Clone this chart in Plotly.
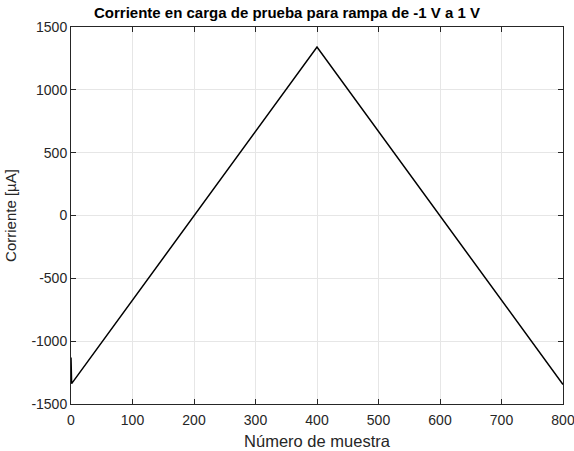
import plotly.graph_objects as go

muestra = [0, 1, 400, 800]
corriente = [-1130, -1338, 1340, -1345]

x_ticks = [0, 100, 200, 300, 400, 500, 600, 700, 800]
y_ticks = [-1500, -1000, -500, 0, 500, 1000, 1500]
y_labels = ["-1500", "-1000", "-500", "0", "500", "1000", "1500"]

FONT = "Liberation Sans, Arial"

fig = go.Figure()
fig.add_trace(go.Scatter(x=muestra, y=corriente, mode="lines",
                         line=dict(color="black", width=1.5), showlegend=False))

axis_common = dict(showline=True, linecolor="#262626", linewidth=1, mirror="ticks",
                   ticks="inside", ticklen=5, tickcolor="#262626", automargin=False,
                   ticklabeloverflow="allow",
                   showgrid=True, gridcolor="#e6e6e6", gridwidth=1, zeroline=False,
                   tickfont=dict(family=FONT, size=14, color="#262626"))

fig.update_layout(
    width=574, height=451,
    margin=dict(l=71, r=11, t=27, b=47),
    paper_bgcolor="white", plot_bgcolor="white",
    title=dict(text="<b>Corriente en carga de prueba para rampa de -1 V a 1 V</b>",
               x=0.5, xanchor="center", y=1, yanchor="top", pad=dict(t=7),
               automargin=False,
               font=dict(family=FONT, size=15, color="black")),
    xaxis=dict(range=[0, 800], tickvals=x_ticks, ticklabelstandoff=3,
               title=dict(text="Número de muestra", standoff=8,
                          font=dict(family=FONT, size=16.5, color="#262626")),
               **axis_common),
    yaxis=dict(range=[-1500, 1500], tickvals=y_ticks, ticktext=y_labels,
               title=dict(text="Corriente [µA]", standoff=11,
                          font=dict(family=FONT, size=15, color="#262626")),
               **axis_common),
)

fig.write_html("out.html", config={"displayModeBar": False},
               post_script="document.body.style.margin='0px';")
